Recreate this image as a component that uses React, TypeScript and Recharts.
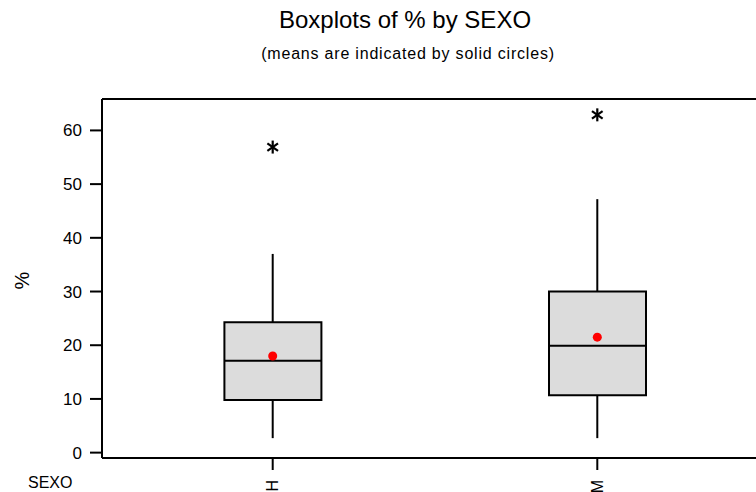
import { ComposedChart, Bar, Scatter, ErrorBar, XAxis, YAxis, ReferenceLine } from 'recharts';

// Boxplot summary per SEXO group
const groups = ['H', 'M'];
const lowWhisker = [2.7, 2.7];
const q1 = [9.8, 10.7];
const median = [17.1, 19.9];
const q3 = [24.3, 30.0];
const highWhisker = [37.0, 47.2];
const means = [18.0, 21.5];
const outliers = [56.9, 62.9];
const yTicks = [0, 10, 20, 30, 40, 50, 60];

const Y_MIN = -1;
const Y_MAX = 65.85;
const BOX_W = 97;
const FONT = '"Liberation Sans", Arial, sans-serif';

const rows = groups.map((g, i) => ({
  pos: i + 1,
  group: g,
  box: [q1[i], q3[i]],
  q1: q1[i],
  q3: q3[i],
  med: median[i],
  lowWhisk: [q1[i] - lowWhisker[i], 0],
  highWhisk: [0, highWhisker[i] - q3[i]],
  mean: means[i],
  out: outliers[i],
}));

function MedianMark(p: any) {
  if (p.cx == null || p.cy == null) return <g />;
  return (
    <line x1={p.cx - BOX_W / 2} x2={p.cx + BOX_W / 2} y1={p.cy} y2={p.cy} stroke="#000" strokeWidth={2} />
  );
}

// Minitab-style outlier symbol: six-armed asterisk
function Asterisk(p: any) {
  if (p.cx == null || p.cy == null) return <g />;
  const r = 6.5;
  const a = (35 * Math.PI) / 180;
  const dx = r * Math.cos(a);
  const dy = r * Math.sin(a);
  return (
    <g stroke="#000" strokeWidth={2.2}>
      <line x1={p.cx} x2={p.cx} y1={p.cy - r} y2={p.cy + r} />
      <line x1={p.cx - dx} x2={p.cx + dx} y1={p.cy - dy} y2={p.cy + dy} />
      <line x1={p.cx - dx} x2={p.cx + dx} y1={p.cy + dy} y2={p.cy - dy} />
    </g>
  );
}

function Empty() {
  return <g />;
}

function GroupTick(p: any) {
  const { x, y, payload } = p;
  const label = groups[payload.value - 1] ?? '';
  return (
    <text
      x={x}
      y={y + 8}
      transform={`rotate(-90, ${x}, ${y + 8})`}
      textAnchor="end"
      dy="0.35em"
      fontSize={16}
      fontFamily={FONT}
      fill="#000"
    >
      {label}
    </text>
  );
}

export default function App() {
  return (
    <div style={{ position: 'fixed', left: 0, top: 0, width: 756, height: 492, overflow: 'hidden', background: '#fff', fontFamily: FONT }}>
      <div style={{ position: 'absolute', left: 0, width: 810, top: 6, textAlign: 'center', fontSize: 24, color: '#000' }}>
        Boxplots of % by SEXO
      </div>
      <div style={{ position: 'absolute', left: 0, width: 816, top: 45, textAlign: 'center', fontSize: 16, color: '#000', letterSpacing: 0.8 }}>
        (means are indicated by solid circles)
      </div>
      <div style={{ position: 'absolute', left: 14, top: 269, fontSize: 20, transform: 'rotate(-90deg)', color: '#000' }}>%</div>
      <div style={{ position: 'absolute', left: 28, top: 474, fontSize: 16, color: '#000' }}>SEXO</div>
      <ComposedChart
        width={780}
        height={492}
        data={rows}
        margin={{ top: 99, right: 12, left: 0, bottom: 0 }}
      >
        <XAxis
          dataKey="pos"
          type="number"
          domain={[0.4741, 2.5259]}
          ticks={[1, 2]}
          allowDataOverflow
          height={34}
          tickSize={12}
          tick={<GroupTick />}
          axisLine={{ stroke: '#000', strokeWidth: 2 }}
          tickLine={{ stroke: '#000', strokeWidth: 2 }}
        />
        <YAxis
          type="number"
          domain={[Y_MIN, Y_MAX]}
          ticks={yTicks}
          allowDataOverflow
          width={102}
          tickSize={12}
          tickMargin={8}
          tick={{ fontSize: 17, fill: '#000', fontFamily: FONT }}
          axisLine={{ stroke: '#000', strokeWidth: 2 }}
          tickLine={{ stroke: '#000', strokeWidth: 2 }}
        />
        <ReferenceLine y={Y_MAX} stroke="#000" strokeWidth={2} />
        <Scatter dataKey="q1" shape={<Empty />} isAnimationActive={false}>
          <ErrorBar dataKey="lowWhisk" direction="y" width={0} stroke="#000" strokeWidth={2} isAnimationActive={false} />
        </Scatter>
        <Scatter dataKey="q3" shape={<Empty />} isAnimationActive={false}>
          <ErrorBar dataKey="highWhisk" direction="y" width={0} stroke="#000" strokeWidth={2} isAnimationActive={false} />
        </Scatter>
        <Bar dataKey="box" barSize={BOX_W} fill="#dcdcdc" stroke="#000" strokeWidth={2} isAnimationActive={false} />
        <Scatter dataKey="med" shape={<MedianMark />} isAnimationActive={false} />
        <Scatter dataKey="mean" fill="#ff0000" shape="circle" isAnimationActive={false} />
        <Scatter dataKey="out" shape={<Asterisk />} isAnimationActive={false} />
      </ComposedChart>
    </div>
  );
}
